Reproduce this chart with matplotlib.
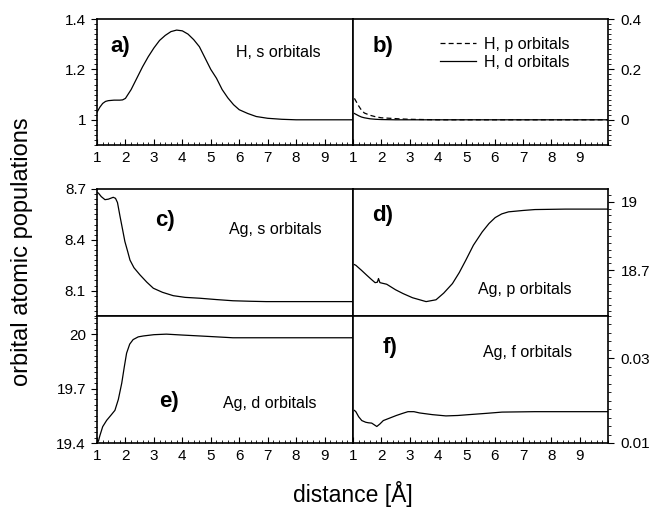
import numpy as np
import matplotlib
matplotlib.use("Agg")
import matplotlib.pyplot as plt
from matplotlib.ticker import AutoMinorLocator, MultipleLocator

plt.rcParams['font.family'] = ['Liberation Sans', 'DejaVu Sans']

# ---- data ----
# a) H, s orbitals
xa = [1.0, 1.1, 1.2, 1.3, 1.4, 1.6, 1.8, 1.9, 2.0, 2.2, 2.4, 2.6, 2.8, 3.0, 3.2, 3.4, 3.6,
      3.8, 4.0, 4.2, 4.4, 4.6, 4.8, 5.0, 5.2, 5.4, 5.6, 5.8, 6.0, 6.3, 6.6, 7.0, 7.5, 8.0, 9.0, 10.0]
ya = [1.03, 1.05, 1.065, 1.073, 1.076, 1.078, 1.078, 1.079, 1.085, 1.12, 1.165, 1.21, 1.25,
      1.285, 1.315, 1.335, 1.35, 1.356, 1.353, 1.34, 1.318, 1.29, 1.245, 1.2, 1.165, 1.12,
      1.087, 1.06, 1.04, 1.025, 1.013, 1.006, 1.002, 1.0, 1.0, 1.0]

# b) H, p and d orbitals
xb_p = [1.05, 1.1, 1.2, 1.3, 1.4, 1.6, 1.8, 2.0, 2.3, 2.6, 3.0, 4.0, 10.0]
yb_p = [0.085, 0.075, 0.055, 0.038, 0.027, 0.018, 0.012, 0.008, 0.006, 0.004, 0.002, 0.0, 0.0]
xb_d = [1.05, 1.1, 1.2, 1.3, 1.4, 1.6, 1.8, 2.0, 2.5, 10.0]
yb_d = [0.025, 0.022, 0.016, 0.011, 0.008, 0.004, 0.002, 0.001, 0.0, 0.0]

# c) Ag, s orbitals
xc = [1.0, 1.05, 1.15, 1.28, 1.4, 1.57, 1.65, 1.72, 1.81, 1.9, 1.98, 2.08, 2.16, 2.3, 2.51,
      2.75, 2.98, 3.3, 3.68, 4.1, 4.61, 5.2, 5.78, 6.4, 6.95, 8.0, 10.0]
yc = [8.68, 8.676, 8.655, 8.637, 8.64, 8.651, 8.645, 8.62, 8.538, 8.46, 8.39, 8.33, 8.28,
      8.235, 8.193, 8.15, 8.114, 8.09, 8.07, 8.06, 8.055, 8.047, 8.04, 8.037, 8.035, 8.035, 8.035]

# d) Ag, p orbitals
xd = [1.05, 1.1, 1.3, 1.49, 1.65, 1.78, 1.86, 1.9, 1.95, 2.19, 2.5, 2.77, 3.1, 3.58, 3.93,
      4.2, 4.51, 4.75, 4.98, 5.25, 5.56, 5.8, 6.02, 6.25, 6.49, 7.0, 7.42, 8.5, 10.0]
yd = [18.725, 18.722, 18.7, 18.678, 18.66, 18.646, 18.648, 18.664, 18.646, 18.639, 18.615,
      18.598, 18.58, 18.563, 18.571, 18.6, 18.642, 18.69, 18.744, 18.81, 18.868, 18.905,
      18.931, 18.947, 18.956, 18.962, 18.966, 18.968, 18.968]

# e) Ag, d orbitals
xe = [1.05, 1.1, 1.2, 1.34, 1.5, 1.63, 1.75, 1.87, 1.96, 2.04, 2.15, 2.27, 2.45, 2.63, 3.0,
      3.44, 4.0, 4.61, 5.2, 5.78, 7.0, 10.0]
ye = [19.41, 19.44, 19.49, 19.525, 19.555, 19.58, 19.64, 19.73, 19.82, 19.895, 19.945, 19.97,
      19.985, 19.99, 19.997, 20.0, 19.995, 19.99, 19.985, 19.98, 19.98, 19.98]

# f) Ag, f orbitals
xf = [1.05, 1.1, 1.2, 1.31, 1.45, 1.55, 1.66, 1.75, 1.84, 1.95, 2.07, 2.3, 2.53, 2.75, 2.94,
      3.15, 3.35, 3.8, 4.28, 4.7, 5.09, 5.7, 6.26, 7.42, 10.0]
yf = [0.0177, 0.0174, 0.0162, 0.0153, 0.0149, 0.01477, 0.0147, 0.0143, 0.0139, 0.0145,
      0.0153, 0.0159, 0.0165, 0.0170, 0.0174, 0.0174, 0.0171, 0.0167, 0.0164, 0.0165,
      0.0167, 0.0170, 0.0173, 0.0174, 0.0174]

xticks = [1, 2, 3, 4, 5, 6, 7, 8, 9]

# ---- figure ----
W, H = 653, 509
fig = plt.figure(figsize=(W / 100, H / 100), dpi=100)


def box(x0, y0, x1, y1):
    return [x0 / W, 1 - y1 / H, (x1 - x0) / W, (y1 - y0) / H]


def style(ax, side, show_x, yticks, ylabels, ylim):
    ax.set_xlim(1, 10)
    ax.set_ylim(*ylim)
    for s in ax.spines.values():
        s.set_linewidth(1.2)
    ax.set_yticks(yticks)
    ax.set_yticklabels(ylabels)
    ax.yaxis.set_minor_locator(AutoMinorLocator(10))
    if side == 'right':
        ax.yaxis.tick_right()
        ax.tick_params(axis='y', which='both', left=False, right=True, pad=5)
    else:
        ax.tick_params(axis='y', which='both', left=True, right=False, pad=4)
    ax.tick_params(axis='y', which='major', direction='out', length=4, width=0.8, labelsize=11)
    ax.tick_params(axis='y', which='minor', direction='out', length=2, width=0.6)
    if show_x:
        ax.set_xticks(xticks)
        ax.xaxis.set_minor_locator(MultipleLocator(0.2))
        ax.tick_params(axis='x', which='major', direction='in', length=4, width=0.8,
                       labelsize=11, pad=4, top=False)
        ax.tick_params(axis='x', which='minor', direction='in', length=2, width=0.6, top=False)
    else:
        ax.set_xticks([])
        ax.tick_params(axis='x', which='both', bottom=False, top=False)


lw = 0.9

# a)
ax = fig.add_axes(box(97, 19, 353, 145))
ax.plot(xa, ya, color='black', lw=lw)
style(ax, 'left', True, [1.0, 1.2, 1.4], ['1', '1.2', '1.4'], (0.9, 1.4))
ax.text(0.051, 0.735, 'a)', transform=ax.transAxes, fontsize=16, fontweight='bold')
ax.text(0.543, 0.698, 'H, s orbitals', transform=ax.transAxes, fontsize=11.5)

# b)
ax = fig.add_axes(box(353, 19, 608, 145))
ax.plot(xb_p, yb_p, color='black', lw=lw, ls=(0, (4, 2.5)), label='H, p orbitals')
ax.plot(xb_d, yb_d, color='black', lw=lw, label='H, d orbitals')
style(ax, 'right', True, [0.0, 0.2, 0.4], ['0', '0.2', '0.4'], (-0.1, 0.4))
ax.text(0.078, 0.735, 'b)', transform=ax.transAxes, fontsize=16, fontweight='bold')
ax.legend(loc='upper left', bbox_to_anchor=(0.34, 0.86), frameon=False, fontsize=11.5,
          handlelength=2.3, handletextpad=0.5, labelspacing=0.2, borderpad=0, borderaxespad=0)

# c)
ax = fig.add_axes(box(97, 189, 353, 316))
ax.plot(xc, yc, color='black', lw=lw)
style(ax, 'left', False, [8.1, 8.4, 8.7], ['8.1', '8.4', '8.7'], (7.95, 8.7))
ax.text(0.227, 0.709, 'c)', transform=ax.transAxes, fontsize=16, fontweight='bold')
ax.text(0.516, 0.646, 'Ag, s orbitals', transform=ax.transAxes, fontsize=11.5)

# d)
ax = fig.add_axes(box(353, 189, 608, 316))
ax.plot(xd, yd, color='black', lw=lw)
style(ax, 'right', False, [18.7, 19.0], ['18.7', '19'], (18.5, 19.056))
ax.text(0.075, 0.748, 'd)', transform=ax.transAxes, fontsize=16, fontweight='bold')
ax.text(0.49, 0.173, 'Ag, p orbitals', transform=ax.transAxes, fontsize=11.5)

# e)
ax = fig.add_axes(box(97, 316, 353, 443))
ax.plot(xe, ye, color='black', lw=lw)
style(ax, 'left', True, [19.4, 19.7, 20.0], ['19.4', '19.7', '20'], (19.4, 20.1))
ax.text(0.242, 0.283, 'e)', transform=ax.transAxes, fontsize=16, fontweight='bold')
ax.text(0.492, 0.276, 'Ag, d orbitals', transform=ax.transAxes, fontsize=11.5)

# f)
ax = fig.add_axes(box(353, 316, 608, 443))
ax.plot(xf, yf, color='black', lw=lw)
style(ax, 'right', True, [0.01, 0.03], ['0.01', '0.03'], (0.01, 0.04))
ax.text(0.118, 0.709, 'f)', transform=ax.transAxes, fontsize=16, fontweight='bold')
ax.text(0.51, 0.677, 'Ag, f orbitals', transform=ax.transAxes, fontsize=11.5)

fig.text(0.034, 0.505, 'orbital atomic populations', rotation=90, ha='center', va='center',
         fontsize=17)
fig.text(353 / W, 1 - 494 / H, 'distance [Å]', ha='center', va='center', fontsize=16.5)

fig.savefig('out.png', dpi=100)
